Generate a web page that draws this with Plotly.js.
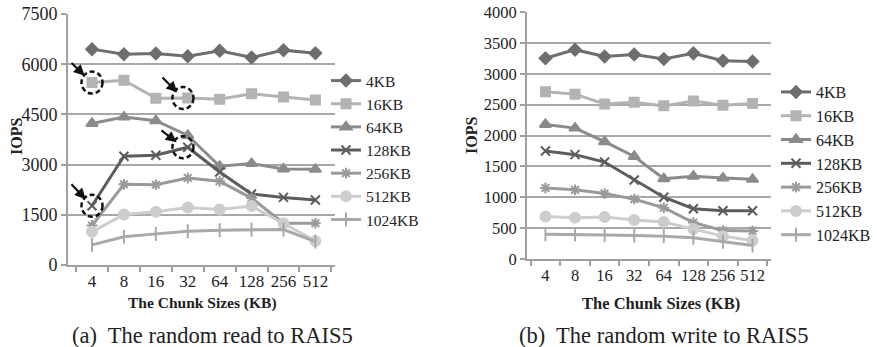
<!DOCTYPE html>
<html>
<head>
<meta charset="utf-8">
<script src="https://cdn.plot.ly/plotly-3.0.1.min.js"></script>
<style>html,body{margin:0;padding:0;background:#fff;}#chart{width:877px;height:347px;}</style>
</head>
<body>
<div id="chart"></div>
<script>
// Chunk sizes (categories)
var chunkSizes = ['4', '8', '16', '32', '64', '128', '256', '512'];
var seriesNames = ['4KB', '16KB', '64KB', '128KB', '256KB', '512KB', '1024KB'];

// (a) random read to RAIS5 - IOPS
var read4KB    = [6450, 6300, 6320, 6240, 6400, 6200, 6420, 6330];
var read16KB   = [5450, 5520, 4980, 4990, 4950, 5120, 5020, 4930];
var read64KB   = [4230, 4420, 4310, 3870, 2950, 3030, 2870, 2860];
var read128KB  = [1770, 3250, 3280, 3520, 2780, 2120, 2020, 1940];
var read256KB  = [1180, 2410, 2400, 2600, 2500, 2000, 1250, 1250];
var read512KB  = [990, 1510, 1590, 1720, 1660, 1760, 1240, 720];
var read1024KB = [600, 845, 930, 1010, 1040, 1060, 1060, 700];

// (b) random write to RAIS5 - IOPS
var write4KB    = [3250, 3390, 3280, 3310, 3240, 3330, 3210, 3200];
var write16KB   = [2710, 2670, 2510, 2540, 2480, 2560, 2490, 2520];
var write64KB   = [2180, 2120, 1900, 1660, 1300, 1340, 1310, 1290];
var write128KB  = [1750, 1690, 1570, 1280, 1000, 815, 780, 780];
var write256KB  = [1150, 1120, 1060, 970, 830, 590, 460, 455];
var write512KB  = [690, 670, 680, 630, 600, 485, 370, 300];
var write1024KB = [400, 400, 390, 380, 370, 345, 280, 220];

var readSeries = [read4KB, read16KB, read64KB, read128KB, read256KB, read512KB, read1024KB];
var writeSeries = [write4KB, write16KB, write64KB, write128KB, write256KB, write512KB, write1024KB];

var colors = ['#6e6e6e', '#b3b3b3', '#8b8b8b', '#5c5c5c', '#9a9a9a', '#cdcdcd', '#a9a9a9'];
var symbols = ['diamond', 'square', 'triangle-up', 'x-thin-open', 'asterisk-open', 'circle', 'line-ns-open'];
var sizes = [9, 9, 10, 9, 9, 10, 10];

var serif = 'Liberation Serif, Times New Roman, serif';
var traces = [];
function addSet(series, xa, ya, legendId) {
  for (var i = 0; i < series.length; i++) {
    traces.push({
      type: 'scatter', mode: 'lines+markers',
      x: chunkSizes, y: series[i], name: seriesNames[i],
      xaxis: xa, yaxis: ya, legend: legendId,
      line: {color: colors[i], width: 3},
      marker: {symbol: symbols[i], size: sizes[i], color: colors[i],
               line: {color: colors[i], width: 2}}
    });
  }
}
addSet(readSeries, 'x', 'y', 'legend');
addSet(writeSeries, 'x2', 'y2', 'legend2');

var W = 877, H = 347;
function px(v) { return v / W; }
function py(v) { return 1 - v / H; }

function xAxis(fs) {
  return {
    type: 'category', showgrid: false, showline: true, linecolor: '#a0a0a0', linewidth: 2,
    ticks: 'outside', tickson: 'boundaries', ticklen: 5, tickcolor: '#a0a0a0', tickwidth: 2,
    tickangle: 0, tickfont: {family: serif, size: fs, color: '#222'}, automargin: false, zeroline: false
  };
}
function yAxis(fs) {
  return {
    showgrid: true, gridcolor: '#a8a8a8', gridwidth: 2, showline: true, linecolor: '#a0a0a0', linewidth: 2,
    ticks: 'outside', ticklen: 5, tickcolor: '#a0a0a0', tickwidth: 2,
    tickfont: {family: serif, size: fs, color: '#222'}, automargin: false, zeroline: false
  };
}

// Dashed circles around highlighted points (a)
var catUnitPx = (335 - 68) / 8;
var valPerPx = 7500 / (265 - 14);
var rC = 11;
var highlights = [
  {x: 0, y: read16KB[0], dx: 0, ax: -22, ay: -21, st: 10},
  {x: 3, y: read16KB[3], dx: -5, ax: -22, ay: -22, st: 8},
  {x: 3, y: read128KB[3], dx: -5, ax: -23, ay: -18, st: 8},
  {x: 0, y: read128KB[0], dx: 0, ax: -22, ay: -23, st: 9}
];
var shapes = [], annotations = [];
highlights.forEach(function (h) {
  var cx = h.x + h.dx / catUnitPx;
  shapes.push({type: 'circle', xref: 'x', yref: 'y',
    x0: cx - rC / catUnitPx, x1: cx + rC / catUnitPx,
    y0: h.y - rC * valPerPx, y1: h.y + rC * valPerPx,
    line: {color: '#111', width: 2.5, dash: '5px,3px'}});
  annotations.push({xref: 'x', yref: 'y', x: cx, y: h.y, text: '', showarrow: true,
    arrowhead: 2, arrowsize: 1, arrowwidth: 2.2, arrowcolor: '#111',
    ax: h.ax, ay: h.ay, standoff: h.st});
});

function txt(t, x, y, size, bold, angle) {
  return {xref: 'paper', yref: 'paper', x: px(x), y: py(y), xanchor: 'center', yanchor: 'middle',
    text: bold ? '<b>' + t + '</b>' : t, showarrow: false, textangle: angle || 0,
    font: {family: serif, size: size, color: '#222'}};
}
annotations.push(txt('IOPS', 16, 137, 16, true, -90));
annotations.push(txt('IOPS', 471, 136, 16, true, -90));
annotations.push(txt('The Chunk Sizes (KB)', 202, 303, 15.5, true));
annotations.push(txt('The Chunk Sizes (KB)', 661, 303, 16.5, true));
annotations.push(txt('(a)  The random read to RAIS5', 212, 335, 22.5, false));
annotations.push(txt('(b)  The random write to RAIS5', 664, 335, 22.5, false));

function legendAt(x, y, fs) {
  return {font: {family: serif, size: fs, color: '#222'}, bgcolor: 'rgba(0,0,0,0)',
    xanchor: 'left', yanchor: 'top', tracegroupgap: 0, itemwidth: 30, x: px(x), y: py(y)};
}

var layout = {
  width: W, height: H, margin: {l: 0, r: 0, t: 0, b: 0},
  paper_bgcolor: '#fff', plot_bgcolor: '#fff',
  xaxis: Object.assign(xAxis(17), {domain: [px(68), px(335)], anchor: 'y'}),
  yaxis: Object.assign(yAxis(18), {domain: [py(265), py(14)], range: [0, 7500], dtick: 1500, anchor: 'x'}),
  xaxis2: Object.assign(xAxis(16.5), {domain: [px(527), px(771)], anchor: 'y2'}),
  yaxis2: Object.assign(yAxis(16.5), {domain: [py(259), py(12)], range: [0, 4000], dtick: 500, anchor: 'x2'}),
  legend: legendAt(326, 64, 15.5),
  legend2: legendAt(776, 75, 16),
  shapes: shapes, annotations: annotations, showlegend: true
};

Plotly.newPlot('chart', traces, layout, {staticPlot: true});
</script>
</body>
</html>
